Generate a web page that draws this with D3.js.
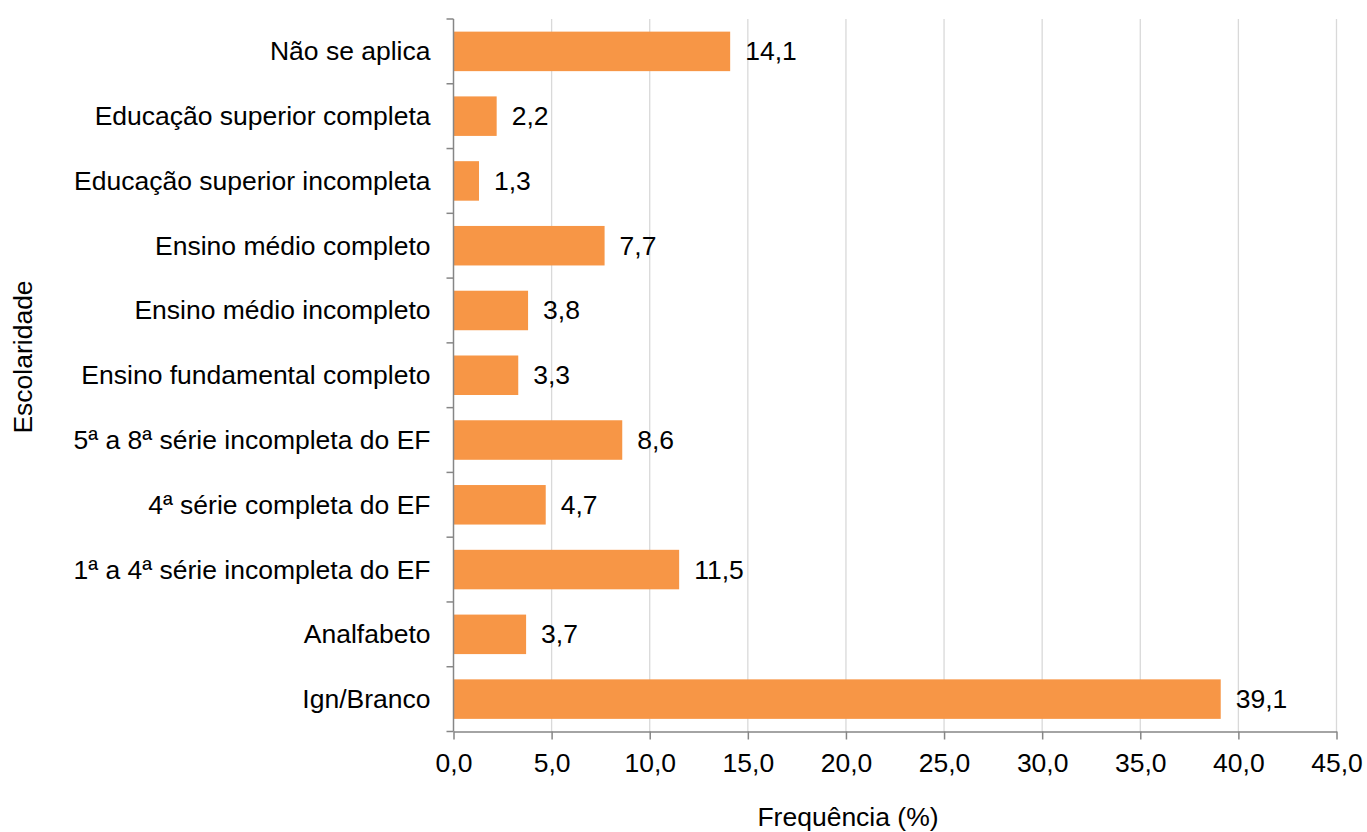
<!DOCTYPE html>
<html><head><meta charset="utf-8">
<script src="https://cdn.jsdelivr.net/npm/d3@7"></script>
<style>body{margin:0;background:#fff}svg{display:block}text{font-family:"Liberation Sans",Arial,sans-serif;fill:#000}</style>
</head><body><svg id="c" width="1367" height="832"></svg>
<script>
const categories = ["Não se aplica","Educação superior completa","Educação superior incompleta","Ensino médio completo","Ensino médio incompleto","Ensino fundamental completo","5ª a 8ª série incompleta do EF","4ª série completa do EF","1ª a 4ª série incompleta do EF","Analfabeto","Ign/Branco"];
const values = [14.1,2.2,1.3,7.7,3.8,3.3,8.6,4.7,11.5,3.7,39.1];
const xTicks = [0,5,10,15,20,25,30,35,40,45];
const xTitle = "Frequência (%)";
const yTitle = "Escolaridade";

const FS = 26.5;
const svg = d3.select("#c");
const L=453.5, R=1336.5, T=19, B=731.5;
const x = d3.scaleLinear().domain([0,45]).range([L,R]);
const y = d3.scaleBand().domain(categories).range([T,B]).paddingInner(0.39).paddingOuter(0.195);
const fmt = v => d3.format(".1f")(v).replace(".",",");

// grid
svg.append("g").selectAll("line").data(xTicks.slice(1)).join("line")
  .attr("x1",d=>x(d)).attr("x2",d=>x(d)).attr("y1",T).attr("y2",B)
  .attr("stroke","#d9d9d9").attr("stroke-width",1.3);

// bars
svg.append("g").selectAll("rect").data(values).join("rect")
  .attr("x",x(0)).attr("y",(d,i)=>y(categories[i])).attr("width",d=>x(d)-x(0)).attr("height",y.bandwidth())
  .attr("fill","#F79646");

// value labels
svg.append("g").selectAll("text").data(values).join("text")
  .attr("x",d=>x(d)+15).attr("y",(d,i)=>y(categories[i])+y.bandwidth()/2+9)
  .attr("font-size",FS).text(d=>fmt(d));

// x axis
const xa = svg.append("g").attr("transform",`translate(0,${B})`)
  .call(d3.axisBottom(x).tickValues(xTicks).tickFormat(fmt).tickSize(8).tickSizeOuter(0).tickPadding(14));
xa.select(".domain").attr("stroke","#868686").attr("stroke-width",1.5);
xa.selectAll(".tick line").attr("stroke","#868686").attr("stroke-width",1.5);
xa.selectAll("text").attr("font-size",FS).attr("fill","#000").attr("font-family","Liberation Sans, Arial, sans-serif");

// y axis
const yb = d3.scaleLinear().domain([0,categories.length]).range([T,B]);
const ya = svg.append("g").attr("transform",`translate(${L},0)`);
ya.append("line").attr("x1",0).attr("x2",0).attr("y1",T).attr("y2",B).attr("stroke","#868686").attr("stroke-width",1.5);
ya.selectAll("line.t").data(d3.range(categories.length+1)).join("line").attr("class","t")
  .attr("x1",-7).attr("x2",0).attr("y1",d=>yb(d)).attr("y2",d=>yb(d)).attr("stroke","#868686").attr("stroke-width",1.5);
ya.selectAll("text").data(categories).join("text")
  .attr("x",-23).attr("y",d=>y(d)+y.bandwidth()/2+9).attr("text-anchor","end").attr("font-size",FS).text(d=>d);

// titles
svg.append("text").attr("x",848).attr("y",826).attr("text-anchor","middle").attr("font-size",FS).text(xTitle);
svg.append("text").attr("transform",`translate(32,357) rotate(-90)`).attr("text-anchor","middle").attr("font-size",FS).text(yTitle);
</script></body></html>
